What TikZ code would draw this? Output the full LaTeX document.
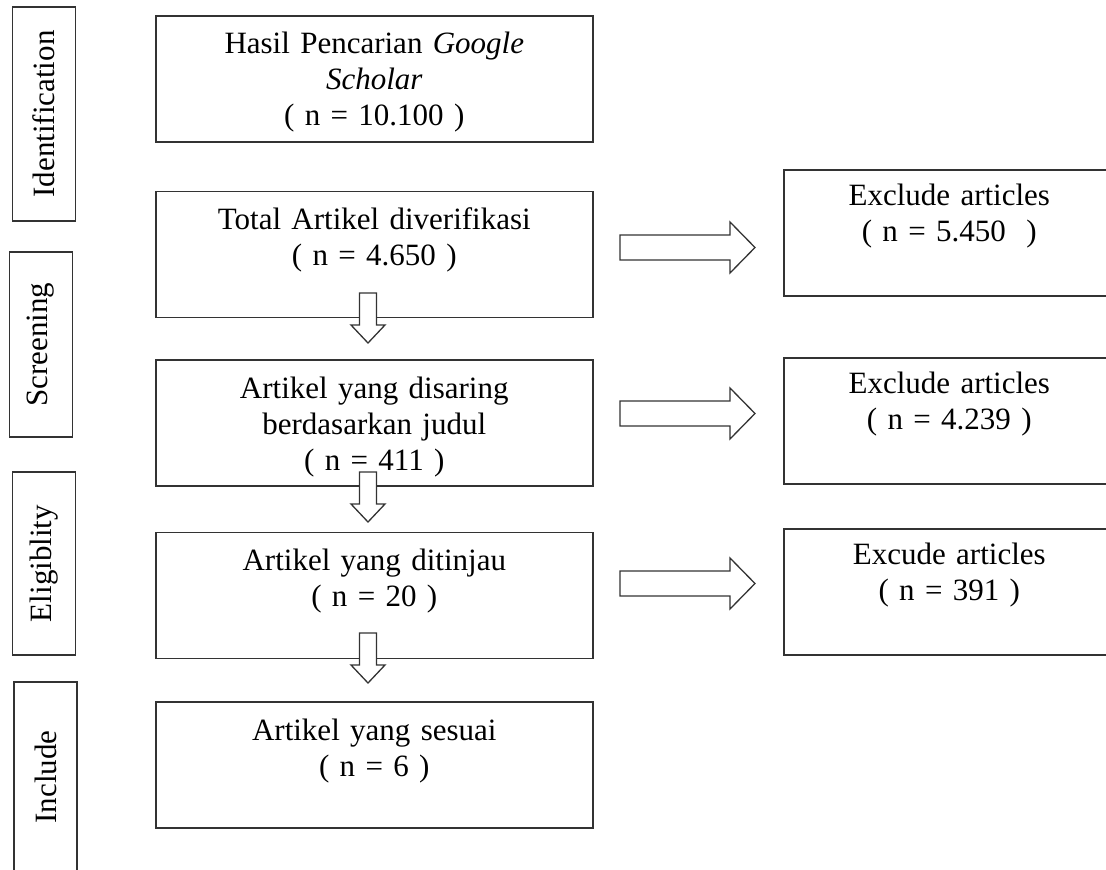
\documentclass[tikz,border=0pt]{standalone}
\usepackage{fontspec}
\setmainfont{Liberation Serif}
\usetikzlibrary{positioning}
\definecolor{framegray}{gray}{0.2}
\tikzstyle{stepBox} = [
 rectangle,
 draw=framegray,
 line width=1.6pt,
 anchor=north west,
 align=center,
 inner sep=0pt,
 text width=437pt,
 text height=38pt,
 text depth=88pt,
 font=\fontsize{31}{36}\selectfont
]
\tikzstyle{exclBox} = [
 stepBox,
 text width=331pt,
 text height=36pt,
 text depth=90pt
]
\tikzstyle{stage} = [
 rectangle,
 draw=framegray,
 line width=1.6pt,
 rotate=90,
 inner sep=0pt,
 minimum height=63pt,
 font=\fontsize{31}{36}\selectfont
]
\tikzstyle{hollowArrow} = [
 draw=framegray,
 fill=white,
 line width=1.3pt,
 line join=miter
]
\tikzset{
 pics/rightArrow/.style={code={
   \draw [hollowArrow] (0,-12.5) -- (110,-12.5) -- (110,-25.5) -- (135,0)
     -- (110,25.5) -- (110,12.5) -- (0,12.5) -- cycle;
 }},
 pics/downArrow/.style={code={
   \draw [hollowArrow] (-8.5,0) -- (-8.5,32) -- (-17,32) -- (0,50)
     -- (17,32) -- (8.5,32) -- (8.5,0) -- cycle;
 }}
}

\begin{document}
\begin{tikzpicture}[x=1pt, y=-1pt]
  \useasboundingbox (0,0) rectangle (1106,870);
  % stages
  \node [stage, minimum width=214pt] (ident) at (44,114) {Identification};
  \node [stage, minimum width=185pt] (screen) at (41,344.5) {Screening};
  \node [stage, minimum width=183pt] (elig) at (44,563.5) {Eligiblity};
  \node [stage, minimum width=190pt] (incl) at (45.5,777) {Include};
  % main flow
  \node [stepBox] (search) at (155,15) {Hasil Pencarian \textit{Google}\\ \textit{Scholar}\\ ( n = 10.100 )};
  \node [stepBox, below=48pt of search] (verified) {Total Artikel diverifikasi\\ ( n = 4.650 )};
  \node [stepBox, below=41pt of verified] (screened) {Artikel yang disaring\\ berdasarkan judul\\ ( n = 411 )};
  \node [stepBox, below=45pt of screened] (reviewed) {Artikel yang ditinjau\\ ( n = 20 )};
  \node [stepBox, below=42pt of reviewed] (included) {Artikel yang sesuai\\ ( n = 6 )};
  % excluded
  \node [exclBox] (exclA) at (783,169) {Exclude articles\\ ( n = 5.450 \ )};
  \node [exclBox] (exclB) at (783,357) {Exclude articles\\ ( n = 4.239 )};
  \node [exclBox] (exclC) at (783,528) {Excude articles\\ ( n = 391 )};
  % arrows
  \pic at (620,247.5) {rightArrow};
  \pic at (620,413.5) {rightArrow};
  \pic at (620,583.5) {rightArrow};
  \pic at (368,293) {downArrow};
  \pic at (368,472) {downArrow};
  \pic at (368,633) {downArrow};
\end{tikzpicture}
\end{document}
